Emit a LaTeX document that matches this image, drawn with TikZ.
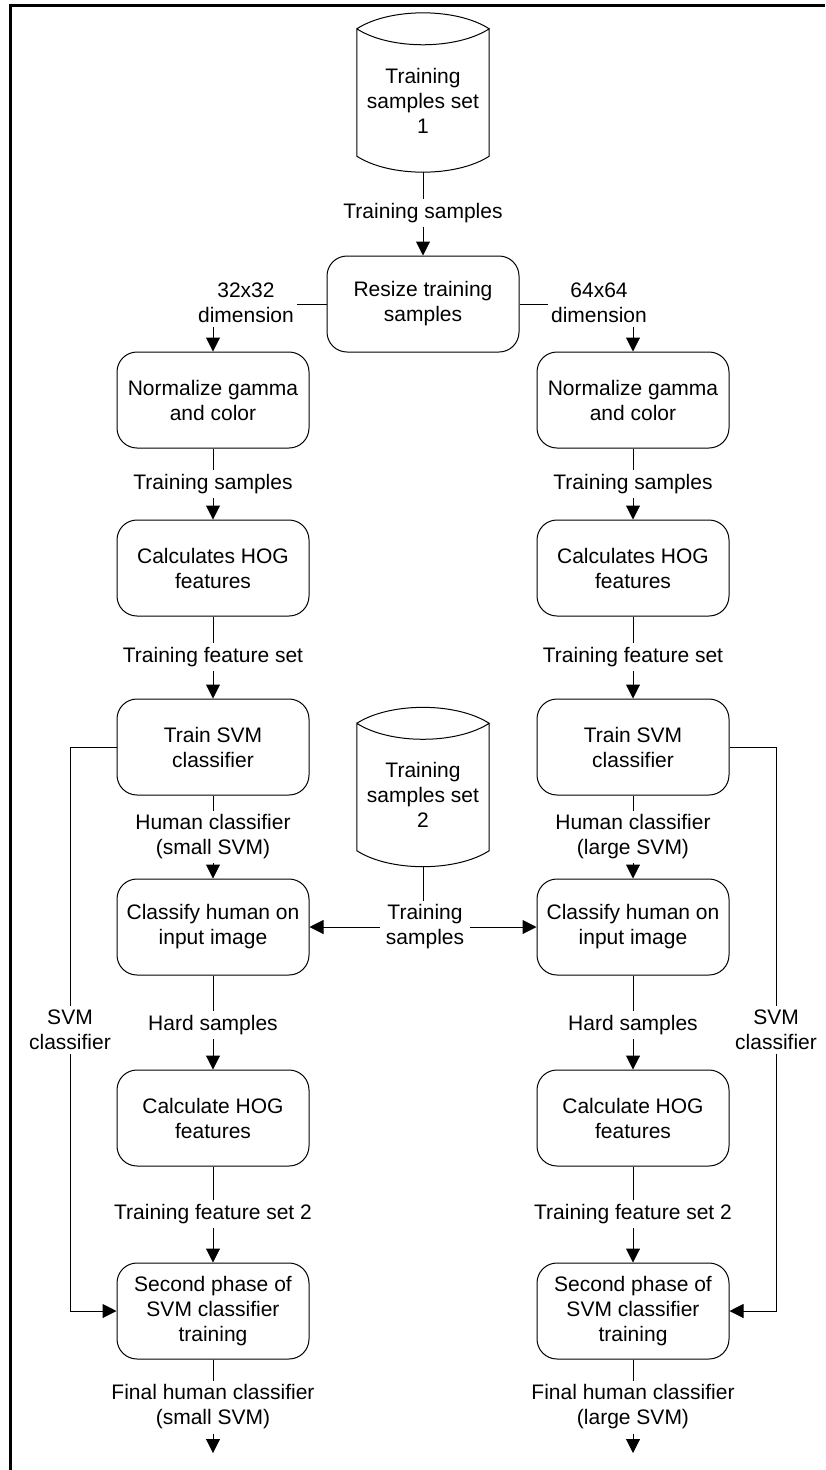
\documentclass[tikz,border=0pt]{standalone}
\usepackage{fontspec}
\setmainfont{Liberation Sans}
\usetikzlibrary{arrows.meta,calc}

% database drum drawn around a borderless text node
\newcommand{\dbshape}[1]{%
  \draw[line width=1pt]
    (#1.north west) .. controls ($(#1.north west)+(33,-21.3)$) and ($(#1.north east)+(-33,-21.3)$) .. (#1.north east)
    .. controls ($(#1.north east)+(-33,21.3)$) and ($(#1.north west)+(33,21.3)$) .. (#1.north west)
    -- ($(#1.south west)+(0,-16)$)
    .. controls ($(#1.south west)+(33,5.3)$) and ($(#1.south east)+(-33,5.3)$) .. ($(#1.south east)+(0,-16)$)
    -- (#1.north east);}

\begin{document}
\begin{tikzpicture}[x=1pt,y=-1pt,
  font=\fontsize{21}{25}\selectfont,
  box/.style={draw, rounded corners=20pt, minimum width=192pt, minimum height=96pt,
              align=center, inner sep=0pt, line width=1pt},
  dbtext/.style={minimum width=132pt, minimum height=143pt, align=center, inner sep=0pt},
  lbl/.style={align=center, inner xsep=3pt, inner ysep=4pt},
  conn/.style={line width=1pt},
  arr/.style={conn, -{Triangle[length=14pt,width=14pt]}}]

\useasboundingbox (0,0) rectangle (825,1470);
\draw[line width=3pt] (10,1470) -- (10,5.5) -- (825,5.5);

% data stores
\node[dbtext] (cyl1) at (423,100.5) {Training\\samples set\\1};
\dbshape{cyl1}
\node[dbtext] (cyl2) at (423,795) {Training\\samples set\\2};
\dbshape{cyl2}

% process boxes
\node[box] (resize) at (423,304) {Resize training\\samples};

\node[box] (norm1)   at (213,400)  {Normalize gamma\\and color};
\node[box] (hog1)    at (213,568)  {Calculates HOG\\features};
\node[box] (train1)  at (213,747)  {Train SVM\\classifier};
\node[box] (cls1)    at (213,927)  {Classify human on\\input image};
\node[box] (hogb1)   at (213,1118) {Calculate HOG\\features};
\node[box] (second1) at (213,1311) {Second phase of\\SVM classifier\\training};

\node[box] (norm2)   at (633,400)  {Normalize gamma\\and color};
\node[box] (hog2)    at (633,568)  {Calculates HOG\\features};
\node[box] (train2)  at (633,747)  {Train SVM\\classifier};
\node[box] (cls2)    at (633,927)  {Classify human on\\input image};
\node[box] (hogb2)   at (633,1118) {Calculate HOG\\features};
\node[box] (second2) at (633,1311) {Second phase of\\SVM classifier\\training};

% connector labels
\node[lbl] (ts0) at (423,213) {Training samples};
\node[lbl] (d32) at (246,303) {32x32\\dimension};
\node[lbl] (d64) at (599,303) {64x64\\dimension};
\node[lbl, inner xsep=6pt] (tsm) at (425,927) {Training\\samples};
\node[lbl] (svmL) at (70,1030)  {SVM\\classifier};
\node[lbl] (svmR) at (776,1030) {SVM\\classifier};

\node[lbl] (ts1)  at (213,484)  {Training samples};
\node[lbl] (tf1)  at (213,657)  {Training feature set};
\node[lbl] (hc1)  at (213,837)  {Human classifier\\(small SVM)};
\node[lbl] (hs1)  at (213,1025) {Hard samples};
\node[lbl] (tfb1) at (213,1214) {Training feature set 2};
\node[lbl] (fh1)  at (213,1407) {Final human classifier\\(small SVM)};
\coordinate (end1) at (213,1453);

\node[lbl] (ts2)  at (633,484)  {Training samples};
\node[lbl] (tf2)  at (633,657)  {Training feature set};
\node[lbl] (hc2)  at (633,837)  {Human classifier\\(large SVM)};
\node[lbl] (hs2)  at (633,1025) {Hard samples};
\node[lbl] (tfb2) at (633,1214) {Training feature set 2};
\node[lbl] (fh2)  at (633,1407) {Final human classifier\\(large SVM)};
\coordinate (end2) at (633,1453);

% top of the flow
\draw[conn] (cyl1) -- (ts0);
\draw[arr] (ts0) -- (resize);
\draw[conn] (resize.west) -- (resize.west -| d32.east);
\draw[arr] (d32.south -| norm1.north) -- (norm1.north);
\draw[conn] (resize.east) -- (resize.east -| d64.west);
\draw[arr] (d64.south -| norm2.north) -- (norm2.north);

% the two columns
\foreach \c in {1,2}{
  \draw[conn] (norm\c) -- (ts\c);   \draw[arr] (ts\c) -- (hog\c);
  \draw[conn] (hog\c) -- (tf\c);    \draw[arr] (tf\c) -- (train\c);
  \draw[conn] (train\c) -- (hc\c);  \draw[arr] (hc\c) -- (cls\c);
  \draw[conn] (cls\c) -- (hs\c);    \draw[arr] (hs\c) -- (hogb\c);
  \draw[conn] (hogb\c) -- (tfb\c);  \draw[arr] (tfb\c) -- (second\c);
  \draw[conn] (second\c) -- (fh\c); \draw[arr] (fh\c) -- (end\c);
}

% second sample set feeding both classifiers
\draw[conn] (cyl2.south) -- (cyl2.south |- tsm.north);
\draw[arr] (tsm.west) -- (cls1.east);
\draw[arr] (tsm.east) -- (cls2.west);

% classifier bypass lines
\draw[conn] (train1.west) -| (svmL.north);
\draw[arr] (svmL.south) |- (second1.west);
\draw[conn] (train2.east) -| (svmR.north);
\draw[arr] (svmR.south) |- (second2.east);
\end{tikzpicture}
\end{document}
